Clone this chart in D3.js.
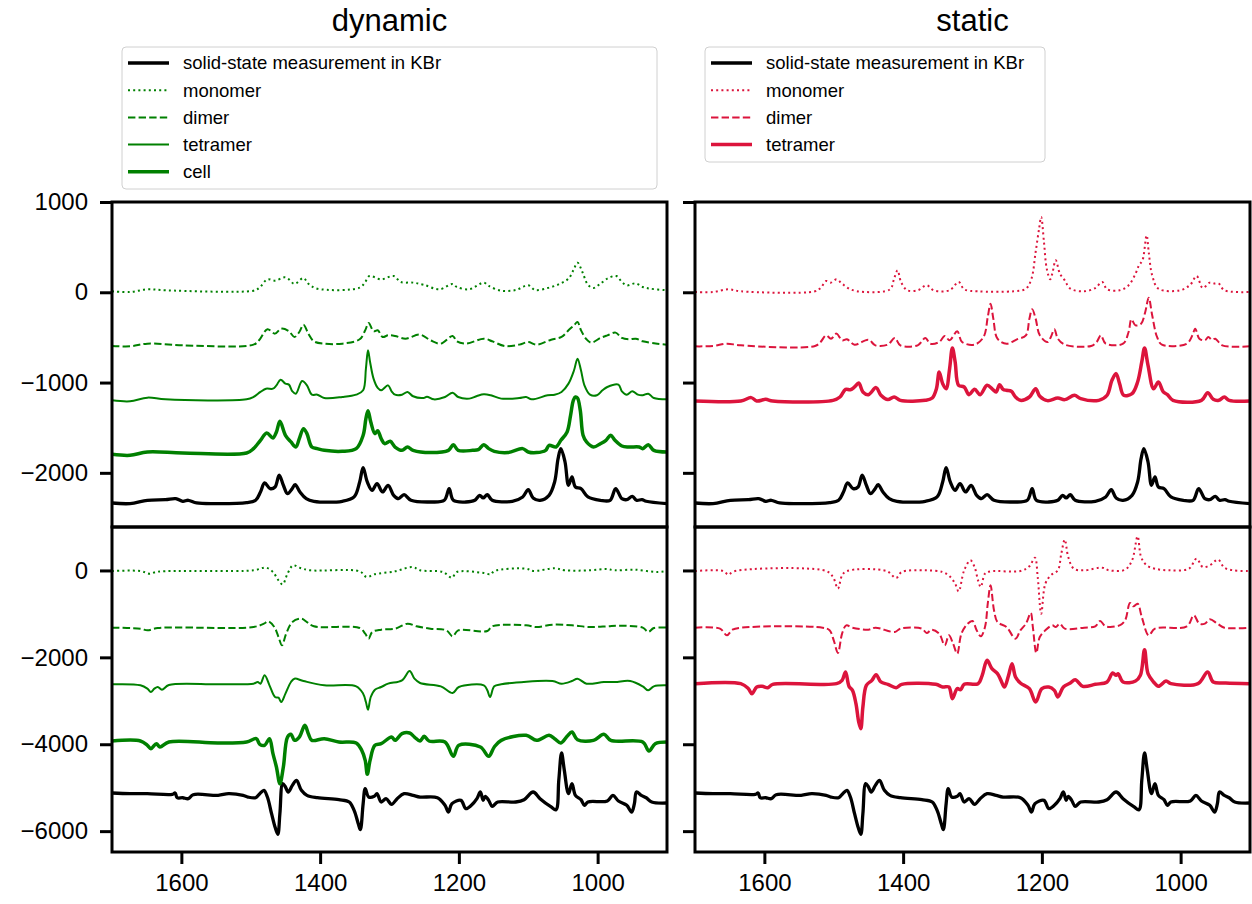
<!DOCTYPE html>
<html><head><meta charset="utf-8">
<script src="https://cdn.jsdelivr.net/npm/d3@7"></script>
<style>body{margin:0;background:#fff}svg{display:block}text{font-family:"Liberation Sans",Arial,Helvetica,sans-serif}</style>
</head><body><svg id="c" width="1252" height="904"></svg>
<script>
// ---------------- DATA ----------------
const columnTitles = ["dynamic", "static"];
const xTicks = [1600, 1400, 1200, 1000];
const yTicksIR = [1000, 0, -1000, -2000];
const yTicksVCD = [0, -2000, -4000, -6000];
const legendDynamic = ["solid-state measurement in KBr", "monomer", "dimer", "tetramer", "cell"];
const legendStatic = ["solid-state measurement in KBr", "monomer", "dimer", "tetramer"];

// [wavenumber, intensity]
const kbrIR = [[1700,-2334],[1674,-2341],[1649,-2304],[1623,-2297],[1608,-2286],[1598,-2315],[1590,-2304],[1578,-2334],[1547,-2341],[1506,-2330],[1493,-2304],[1486,-2212],[1480,-2112],[1472,-2175],[1465,-2157],[1459,-2027],[1453,-2138],[1447,-2231],[1441,-2183],[1436,-2131],[1429,-2212],[1420,-2286],[1409,-2315],[1368,-2315],[1351,-2267],[1343,-2101],[1338,-1943],[1332,-2101],[1325,-2194],[1318,-2120],[1310,-2212],[1302,-2138],[1294,-2249],[1287,-2286],[1279,-2242],[1269,-2304],[1241,-2323],[1221,-2304],[1214,-2175],[1208,-2304],[1190,-2323],[1177,-2304],[1170,-2249],[1165,-2278],[1159,-2242],[1152,-2304],[1123,-2315],[1108,-2267],[1100,-2186],[1093,-2278],[1083,-2304],[1070,-2249],[1062,-2101],[1057,-1843],[1053,-1732],[1047,-1880],[1042,-2138],[1037,-2046],[1032,-2157],[1024,-2175],[1014,-2267],[996,-2304],[982,-2304],[974,-2175],[965,-2286],[958,-2297],[950,-2260],[944,-2304],[936,-2297],[930,-2315],[900,-2341]];

const dynMonomerIR = [[1700,11],[1674,3],[1649,33],[1623,22],[1496,18],[1488,47],[1476,143],[1465,129],[1451,166],[1445,143],[1437,92],[1424,158],[1417,95],[1404,40],[1343,51],[1335,114],[1329,180],[1312,143],[1294,180],[1284,114],[1266,107],[1251,84],[1228,33],[1209,92],[1203,59],[1185,33],[1164,107],[1157,70],[1139,18],[1118,25],[1100,77],[1090,25],[1072,47],[1055,92],[1042,151],[1035,243],[1029,328],[1022,225],[1014,84],[1006,47],[996,95],[986,151],[973,180],[965,114],[958,77],[945,99],[935,59],[924,40],[900,22]];

const dynDimerIR = [[1700,-595],[1674,-599],[1649,-569],[1598,-588],[1496,-580],[1488,-532],[1476,-410],[1465,-458],[1456,-403],[1445,-432],[1437,-495],[1430,-440],[1424,-359],[1417,-458],[1409,-543],[1394,-569],[1368,-569],[1343,-521],[1335,-421],[1330,-340],[1323,-432],[1317,-421],[1310,-495],[1302,-477],[1292,-484],[1277,-514],[1256,-469],[1241,-532],[1226,-569],[1209,-484],[1203,-543],[1190,-569],[1164,-514],[1152,-543],[1134,-595],[1113,-580],[1100,-551],[1088,-580],[1067,-525],[1052,-495],[1042,-421],[1034,-366],[1029,-329],[1024,-421],[1016,-521],[1009,-558],[996,-506],[986,-477],[974,-447],[965,-506],[955,-521],[945,-514],[935,-543],[914,-569],[900,-580]];

const dynTetramerIR = [[1700,-1197],[1674,-1208],[1649,-1167],[1623,-1186],[1506,-1186],[1496,-1160],[1486,-1104],[1478,-1068],[1468,-1068],[1463,-1031],[1457,-968],[1450,-1012],[1445,-1023],[1440,-1097],[1435,-1123],[1426,-983],[1419,-1031],[1412,-1134],[1404,-1134],[1394,-1171],[1368,-1160],[1348,-1134],[1338,-1086],[1334,-846],[1331,-643],[1328,-772],[1323,-957],[1317,-1060],[1312,-1086],[1302,-1031],[1297,-1097],[1292,-1134],[1282,-1134],[1274,-1104],[1266,-1152],[1251,-1171],[1246,-1156],[1236,-1186],[1220,-1160],[1209,-1112],[1201,-1160],[1185,-1178],[1174,-1149],[1164,-1130],[1154,-1141],[1139,-1178],[1113,-1171],[1103,-1160],[1095,-1186],[1072,-1141],[1062,-1134],[1052,-1104],[1042,-1012],[1034,-864],[1029,-735],[1024,-864],[1019,-1031],[1011,-1134],[1001,-1141],[993,-1086],[986,-1049],[970,-1023],[965,-1097],[958,-1134],[950,-1097],[942,-1134],[935,-1141],[927,-1123],[919,-1171],[900,-1186]];

const dynCellIR = [[1700,-1795],[1674,-1806],[1649,-1769],[1598,-1780],[1506,-1780],[1496,-1732],[1486,-1640],[1477,-1559],[1468,-1614],[1463,-1547],[1458,-1429],[1450,-1584],[1442,-1658],[1435,-1714],[1430,-1621],[1424,-1511],[1419,-1566],[1412,-1714],[1404,-1732],[1394,-1751],[1368,-1762],[1348,-1732],[1338,-1584],[1334,-1400],[1331,-1311],[1327,-1437],[1321,-1566],[1317,-1533],[1312,-1621],[1307,-1677],[1299,-1651],[1292,-1714],[1282,-1751],[1274,-1714],[1266,-1751],[1241,-1776],[1215,-1751],[1208,-1688],[1201,-1751],[1180,-1751],[1172,-1743],[1164,-1688],[1157,-1732],[1149,-1762],[1129,-1776],[1108,-1732],[1100,-1769],[1088,-1776],[1075,-1751],[1070,-1695],[1060,-1714],[1053,-1640],[1044,-1547],[1039,-1363],[1035,-1197],[1032,-1160],[1029,-1171],[1025,-1308],[1021,-1584],[1016,-1658],[1006,-1714],[996,-1677],[988,-1640],[981,-1584],[975,-1640],[965,-1703],[955,-1714],[940,-1714],[935,-1732],[927,-1688],[919,-1751],[900,-1769]];

const staMonomerIR = [[1700,3],[1674,3],[1652,33],[1634,11],[1527,11],[1519,47],[1511,125],[1504,107],[1496,143],[1488,95],[1476,33],[1455,3],[1419,33],[1413,151],[1408,243],[1403,114],[1394,22],[1379,22],[1366,77],[1356,22],[1333,22],[1320,114],[1312,33],[1292,11],[1241,11],[1223,40],[1215,151],[1209,446],[1204,705],[1201,834],[1197,557],[1193,262],[1188,143],[1185,206],[1180,354],[1174,206],[1167,132],[1159,40],[1139,11],[1123,47],[1113,114],[1106,33],[1088,22],[1075,77],[1065,206],[1060,299],[1055,354],[1049,631],[1046,446],[1041,188],[1032,40],[1001,22],[986,84],[977,180],[968,47],[958,107],[950,95],[945,95],[937,22],[900,3]];

const staDimerIR = [[1700,-599],[1674,-595],[1654,-569],[1634,-588],[1527,-595],[1519,-551],[1511,-477],[1504,-514],[1496,-458],[1488,-532],[1481,-521],[1470,-580],[1450,-525],[1440,-588],[1422,-580],[1412,-506],[1404,-588],[1379,-588],[1368,-506],[1361,-569],[1348,-551],[1340,-484],[1333,-532],[1322,-432],[1315,-551],[1297,-580],[1284,-495],[1278,-274],[1274,-126],[1270,-292],[1264,-514],[1251,-569],[1236,-521],[1223,-477],[1218,-292],[1214,-189],[1209,-292],[1203,-477],[1192,-551],[1187,-495],[1182,-410],[1177,-514],[1167,-580],[1129,-595],[1121,-551],[1115,-477],[1108,-569],[1083,-569],[1075,-440],[1071,-300],[1065,-366],[1057,-348],[1051,-218],[1046,-60],[1041,-255],[1034,-495],[1027,-580],[991,-569],[983,-477],[979,-403],[973,-514],[965,-532],[960,-495],[955,-525],[950,-514],[940,-588],[900,-599]];

const staTetramerIR = [[1700,-1204],[1634,-1204],[1619,-1167],[1611,-1204],[1598,-1186],[1588,-1204],[1501,-1197],[1491,-1160],[1483,-1075],[1476,-1079],[1470,-1049],[1464,-1005],[1458,-1104],[1450,-1134],[1439,-1056],[1432,-1141],[1422,-1189],[1413,-1160],[1404,-1197],[1368,-1197],[1358,-1171],[1352,-1068],[1348,-883],[1343,-1012],[1338,-1068],[1333,-846],[1329,-617],[1325,-772],[1320,-1031],[1312,-1049],[1305,-1134],[1297,-1075],[1289,-1134],[1279,-1031],[1271,-1075],[1266,-1104],[1261,-1023],[1256,-1075],[1251,-1086],[1244,-1097],[1238,-1160],[1231,-1197],[1218,-1160],[1209,-1068],[1203,-1152],[1192,-1200],[1177,-1171],[1167,-1189],[1153,-1141],[1144,-1178],[1118,-1197],[1106,-1141],[1099,-975],[1093,-901],[1088,-1012],[1082,-1141],[1070,-1123],[1062,-994],[1056,-772],[1052,-617],[1047,-809],[1039,-1068],[1032,-994],[1025,-1104],[1019,-1134],[1011,-1197],[970,-1197],[961,-1112],[953,-1186],[945,-1197],[937,-1160],[930,-1197],[900,-1204]];

const kbrVCD = [[1700,-5122],[1674,-5138],[1649,-5138],[1613,-5153],[1609,-5122],[1606,-5231],[1598,-5231],[1590,-5253],[1583,-5161],[1547,-5176],[1532,-5138],[1511,-5176],[1504,-5215],[1493,-5231],[1487,-5138],[1481,-5061],[1476,-5215],[1470,-5598],[1465,-5905],[1461,-6074],[1458,-5598],[1454,-4907],[1450,-4984],[1446,-5099],[1440,-4946],[1434,-4831],[1427,-5061],[1419,-5176],[1404,-5231],[1373,-5276],[1358,-5329],[1351,-5521],[1345,-5828],[1342,-5966],[1338,-5368],[1335,-5023],[1330,-5215],[1322,-5199],[1318,-5138],[1312,-5329],[1305,-5253],[1297,-5383],[1289,-5253],[1279,-5138],[1266,-5176],[1256,-5215],[1231,-5231],[1220,-5406],[1215,-5560],[1210,-5368],[1197,-5291],[1190,-5482],[1182,-5406],[1174,-5253],[1169,-5099],[1165,-5291],[1162,-5199],[1157,-5291],[1152,-5429],[1144,-5329],[1118,-5329],[1106,-5276],[1093,-5099],[1083,-5253],[1067,-5444],[1060,-5506],[1056,-4831],[1052,-4202],[1048,-4601],[1042,-5138],[1037,-4907],[1032,-5176],[1024,-5276],[1019,-5406],[1014,-5329],[986,-5306],[978,-5176],[970,-5306],[958,-5406],[951,-5560],[947,-5368],[944,-5099],[937,-5176],[930,-5231],[922,-5329],[900,-5352]];

const dynMonomerVCD = [[1700,-13],[1659,-13],[1646,-74],[1634,-28],[1496,3],[1478,64],[1468,-36],[1460,-228],[1454,-320],[1447,-74],[1439,118],[1430,64],[1414,3],[1343,-20],[1333,-151],[1322,-89],[1292,-20],[1267,79],[1256,3],[1223,-36],[1210,-166],[1203,-36],[1164,-59],[1154,-89],[1149,-13],[1103,41],[1093,-13],[1062,49],[1047,3],[1011,3],[988,33],[975,3],[947,18],[914,-36],[900,-13]];

const dynDimerVCD = [[1700,-1317],[1659,-1340],[1649,-1378],[1634,-1325],[1496,-1302],[1481,-1225],[1475,-1171],[1466,-1302],[1460,-1532],[1455,-1724],[1449,-1455],[1440,-1187],[1427,-1110],[1419,-1187],[1409,-1286],[1343,-1325],[1335,-1455],[1330,-1570],[1325,-1417],[1312,-1363],[1292,-1340],[1274,-1225],[1261,-1286],[1241,-1340],[1218,-1378],[1209,-1516],[1201,-1378],[1159,-1394],[1152,-1286],[1103,-1263],[1088,-1302],[1065,-1248],[1037,-1263],[1011,-1302],[986,-1286],[970,-1271],[935,-1317],[927,-1417],[919,-1325],[900,-1317]];

const dynTetramerVCD = [[1700,-2621],[1659,-2644],[1649,-2721],[1644,-2798],[1639,-2721],[1634,-2683],[1628,-2744],[1618,-2637],[1547,-2621],[1496,-2606],[1490,-2567],[1486,-2606],[1480,-2414],[1473,-2644],[1465,-2913],[1460,-2928],[1456,-3028],[1450,-2836],[1442,-2567],[1437,-2491],[1424,-2545],[1394,-2644],[1348,-2667],[1338,-2836],[1334,-3028],[1331,-3204],[1327,-2913],[1321,-2744],[1312,-2683],[1302,-2606],[1282,-2529],[1271,-2314],[1264,-2491],[1256,-2590],[1226,-2667],[1209,-2821],[1200,-2683],[1164,-2644],[1159,-2759],[1155,-2913],[1149,-2667],[1139,-2621],[1065,-2545],[1052,-2606],[1037,-2545],[1029,-2491],[1016,-2606],[991,-2567],[975,-2567],[953,-2545],[935,-2667],[927,-2759],[919,-2667],[900,-2644]];

const dynCellVCD = [[1700,-3925],[1659,-3925],[1649,-4025],[1644,-4102],[1636,-3987],[1631,-4064],[1618,-3948],[1547,-3971],[1506,-3948],[1492,-3872],[1487,-4002],[1480,-4025],[1473,-3872],[1468,-4217],[1463,-4524],[1458,-4907],[1453,-4524],[1447,-3834],[1442,-3772],[1437,-3910],[1430,-3834],[1422,-3565],[1417,-3757],[1412,-3910],[1394,-3872],[1373,-3948],[1348,-3971],[1340,-4140],[1335,-4370],[1332,-4693],[1328,-4370],[1321,-4025],[1312,-3987],[1297,-3834],[1292,-3910],[1282,-3757],[1271,-3741],[1264,-3834],[1256,-3925],[1250,-3818],[1243,-3925],[1220,-3948],[1208,-4278],[1200,-4025],[1169,-4064],[1157,-4278],[1149,-4064],[1139,-3910],[1103,-3795],[1088,-3910],[1070,-3795],[1062,-3872],[1053,-3971],[1044,-3818],[1037,-3718],[1029,-3895],[1006,-3910],[991,-3772],[981,-3910],[935,-3948],[926,-4156],[917,-3987],[900,-3948]];

const staMonomerVCD = [[1700,-13],[1659,-13],[1652,-97],[1644,-20],[1511,-13],[1501,-151],[1494,-419],[1488,-112],[1481,-13],[1424,-13],[1410,-174],[1402,-36],[1368,3],[1343,-36],[1333,-135],[1325,-304],[1320,-481],[1312,3],[1303,233],[1297,79],[1292,-228],[1288,-381],[1282,-74],[1274,-20],[1231,-13],[1218,95],[1210,294],[1206,-151],[1201,-995],[1195,-304],[1187,-112],[1177,3],[1172,386],[1167,708],[1162,310],[1154,41],[1139,3],[1113,64],[1103,3],[1080,18],[1070,233],[1062,785],[1057,310],[1049,118],[1037,41],[1016,3],[988,41],[977,271],[968,79],[958,118],[946,248],[937,64],[924,3],[900,-13]];

const staDimerVCD = [[1700,-1317],[1664,-1340],[1654,-1493],[1646,-1363],[1634,-1317],[1516,-1317],[1506,-1378],[1500,-1608],[1494,-1900],[1488,-1455],[1482,-1263],[1473,-1317],[1450,-1363],[1440,-1317],[1412,-1417],[1404,-1340],[1373,-1340],[1366,-1440],[1359,-1363],[1348,-1455],[1340,-1724],[1334,-1493],[1328,-1685],[1322,-1915],[1316,-1455],[1307,-1225],[1300,-1163],[1294,-1378],[1288,-1516],[1282,-1302],[1278,-765],[1274,-343],[1269,-918],[1264,-1187],[1251,-1302],[1238,-1570],[1231,-1378],[1223,-1225],[1216,-979],[1213,-1302],[1208,-1900],[1203,-1532],[1195,-1378],[1185,-1263],[1180,-1302],[1174,-1225],[1167,-1340],[1139,-1317],[1123,-1286],[1116,-1163],[1108,-1286],[1088,-1263],[1080,-1148],[1073,-749],[1068,-826],[1062,-765],[1056,-1071],[1046,-1493],[1037,-1340],[991,-1286],[981,-1033],[973,-1225],[965,-1225],[958,-1125],[947,-1225],[937,-1317],[900,-1317]];

const staTetramerVCD = [[1700,-2606],[1634,-2606],[1623,-2721],[1618,-2836],[1611,-2683],[1603,-2667],[1595,-2698],[1588,-2621],[1496,-2606],[1488,-2529],[1483,-2337],[1478,-2667],[1473,-2759],[1468,-3066],[1464,-3488],[1461,-3642],[1458,-3143],[1453,-2644],[1445,-2529],[1439,-2399],[1432,-2567],[1422,-2621],[1410,-2698],[1402,-2621],[1353,-2621],[1343,-2683],[1334,-2683],[1329,-2951],[1322,-2721],[1317,-2744],[1312,-2621],[1292,-2606],[1286,-2414],[1279,-2069],[1272,-2261],[1264,-2376],[1259,-2529],[1254,-2683],[1248,-2414],[1243,-2146],[1238,-2452],[1231,-2590],[1218,-2721],[1209,-3028],[1200,-2721],[1190,-2683],[1182,-2759],[1177,-2913],[1169,-2683],[1159,-2590],[1152,-2514],[1141,-2667],[1123,-2621],[1106,-2567],[1098,-2360],[1093,-2414],[1090,-2376],[1083,-2567],[1065,-2545],[1058,-2414],[1052,-1823],[1047,-2376],[1039,-2567],[1032,-2667],[1021,-2545],[1014,-2606],[975,-2606],[961,-2337],[953,-2567],[935,-2590],[900,-2606]];

// ---------------- DRAW ----------------
const svg = d3.select("#c");
const GREEN = "#008000", RED = "#dc143c";
const styles = {
  kbr:   {stroke: "#000", width: 3.3, dash: null},
  mono:  {width: 2, dash: "2,3.2"},
  dimer: {width: 2, dash: "7.4,3.2"},
  tetThin: {width: 2, dash: null},
  thick: {width: 3.5, dash: null}
};

const cols = [{x0: 112, x1: 667}, {x0: 695, x1: 1250}];
const rows = [{y0: 202, y1: 527, dom: [-2600, 1000], ticks: yTicksIR},
              {y0: 527, y1: 852, dom: [-6480, 1000], ticks: yTicksVCD}];

const panels = [
  {c: 0, r: 0, series: [[kbrIR, "kbr", "#000"], [dynMonomerIR, "mono", GREEN], [dynDimerIR, "dimer", GREEN], [dynTetramerIR, "tetThin", GREEN], [dynCellIR, "thick", GREEN]]},
  {c: 1, r: 0, series: [[kbrIR, "kbr", "#000"], [staMonomerIR, "mono", RED], [staDimerIR, "dimer", RED], [staTetramerIR, "thick", RED]]},
  {c: 0, r: 1, series: [[kbrVCD, "kbr", "#000"], [dynMonomerVCD, "mono", GREEN], [dynDimerVCD, "dimer", GREEN], [dynTetramerVCD, "tetThin", GREEN], [dynCellVCD, "thick", GREEN]]},
  {c: 1, r: 1, series: [[kbrVCD, "kbr", "#000"], [staMonomerVCD, "mono", RED], [staDimerVCD, "dimer", RED], [staTetramerVCD, "thick", RED]]}
];

const defs = svg.append("defs");
panels.forEach((p, i) => {
  const col = cols[p.c], row = rows[p.r];
  const x = d3.scaleLinear().domain([1700, 900]).range([col.x0, col.x1]);
  const y = d3.scaleLinear().domain(row.dom).range([row.y1, row.y0]);
  defs.append("clipPath").attr("id", "clip" + i).append("rect")
    .attr("x", col.x0).attr("y", row.y0).attr("width", col.x1 - col.x0).attr("height", row.y1 - row.y0);
  const g = svg.append("g");
  const lg = g.append("g").attr("clip-path", `url(#clip${i})`);
  const line = d3.line().x(d => x(d[0])).y(d => y(d[1])).curve(d3.curveCatmullRom.alpha(0.5));
  p.series.forEach(([data, st, color]) => {
    const s = styles[st];
    lg.append("path").attr("d", line(data)).attr("fill", "none")
      .attr("stroke", color).attr("stroke-width", s.width)
      .attr("stroke-dasharray", s.dash).attr("stroke-linejoin", "round");
  });
  // y axis
  const ya = g.append("g").attr("transform", `translate(${col.x0},0)`)
    .call(d3.axisLeft(y).tickValues(row.ticks).tickSize(12).tickPadding(12)
      .tickFormat(p.c === 0 ? (d => d3.format("d")(d).replace("-", "\u2212")) : () => ""));
  ya.select(".domain").remove();
  ya.selectAll(".tick line").attr("stroke", "#000").attr("stroke-width", 3);
  ya.selectAll(".tick text").attr("font-size", 24).attr("fill", "#000")
    .attr("font-family", '"Liberation Sans",Arial,sans-serif');
  if (p.r === 1) {
    const xa = g.append("g").attr("transform", `translate(0,${row.y1})`)
      .call(d3.axisBottom(x).tickValues(xTicks).tickSize(12).tickPadding(10).tickFormat(d3.format("d")));
    xa.select(".domain").remove();
    xa.selectAll(".tick line").attr("stroke", "#000").attr("stroke-width", 3);
    xa.selectAll(".tick text").attr("font-size", 24).attr("fill", "#000")
      .attr("font-family", '"Liberation Sans",Arial,sans-serif');
  }
  g.append("rect").attr("x", col.x0).attr("y", row.y0).attr("width", col.x1 - col.x0)
    .attr("height", row.y1 - row.y0).attr("fill", "none").attr("stroke", "#000").attr("stroke-width", 3);
});

// titles
columnTitles.forEach((t, i) => {
  svg.append("text").attr("x", (cols[i].x0 + cols[i].x1) / 2).attr("y", 31)
    .attr("text-anchor", "middle").attr("font-size", 31).attr("fill", "#000").text(t);
});

// legends
function legend(x0, y0, w, h, labels, color, keys) {
  const g = svg.append("g");
  g.append("rect").attr("x", x0).attr("y", y0).attr("width", w).attr("height", h)
    .attr("rx", 4).attr("fill", "#fff").attr("fill-opacity", 0.8)
    .attr("stroke", "#d0d0d0").attr("stroke-width", 1);
  labels.forEach((lab, i) => {
    const yy = y0 + 16 + i * 27.2;
    const s = styles[keys[i]];
    g.append("line").attr("x1", x0 + 6).attr("x2", x0 + 47).attr("y1", yy).attr("y2", yy)
      .attr("stroke", i === 0 ? "#000" : color).attr("stroke-width", s.width)
      .attr("stroke-dasharray", s.dash);
    g.append("text").attr("x", x0 + 61).attr("y", yy).attr("dy", "0.35em")
      .attr("font-size", 18.5).attr("fill", "#000").text(lab);
  });
}
legend(122, 47, 535, 142, legendDynamic, GREEN, ["kbr", "mono", "dimer", "tetThin", "thick"]);
legend(705, 47, 340, 115, legendStatic, RED, ["kbr", "mono", "dimer", "thick"]);
</script></body></html>
